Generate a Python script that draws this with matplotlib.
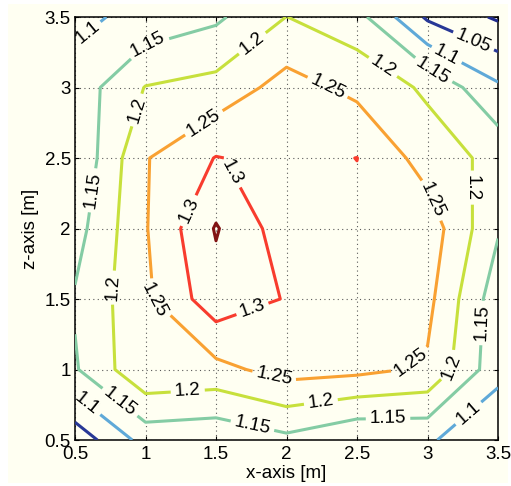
import numpy as np
import matplotlib
matplotlib.use("Agg")
import matplotlib.pyplot as plt
from matplotlib.patches import Rectangle

plt.rcParams['font.family'] = ['Liberation Sans', 'DejaVu Sans']

# measurement grid (m)
x_pos = [0.5, 1.0, 1.5, 2.0, 2.5, 3.0, 3.5]
z_pos = [0.5, 1.0, 1.5, 2.0, 2.5, 3.0, 3.5]

# measured values, one row per z position (bottom to top)
row_z050 = [1.018, 1.119, 1.111, 1.137, 1.102, 1.108, 1.051]
row_z100 = [1.145, 1.242, 1.235, 1.270, 1.263, 1.243, 1.117]
row_z150 = [1.155, 1.240, 1.331, 1.297, 1.285, 1.264, 1.120]
row_z200 = [1.130, 1.2465, 1.354, 1.272, 1.288, 1.279, 1.155]
row_z250 = [1.1056, 1.2467, 1.302, 1.285, 1.3005, 1.228, 1.184]
row_z300 = [1.121, 1.202, 1.217, 1.270, 1.237, 1.191, 1.109]
row_z350 = [1.088, 1.115, 1.141, 1.2005, 1.168, 1.042, 0.993]

levels = [1.0, 1.05, 1.1, 1.15, 1.2, 1.25, 1.3, 1.35]
level_colors = ['#1f2a8c', '#283896', '#5fa9d8', '#84cca4',
                '#c7e03c', '#f9a132', '#f83c2e', '#821414']

tick_vals = [0.5, 1, 1.5, 2, 2.5, 3, 3.5]
tick_text = ['0.5', '1', '1.5', '2', '2.5', '3', '3.5']

# where the contour labels sit (each snaps to the nearest line)
label_spots = [
    (3.34, 3.36),
    (0.58, 3.40), (3.14, 3.24), (0.585, 0.755), (3.29, 0.69),
    (1.02, 3.29), (0.63, 2.27), (0.82, 0.77), (1.755, 0.585),
    (2.72, 0.656), (3.38, 1.33), (3.04, 3.12),
    (0.94, 2.84), (0.78, 1.58), (1.30, 0.84), (2.245, 0.76),
    (3.16, 1.02), (3.31, 2.29), (2.68, 3.14), (1.76, 3.31),
    (1.42, 2.74), (2.29, 3.0), (3.03, 2.2), (2.87, 1.06),
    (1.91, 0.94), (1.08, 1.51),
    (1.62, 2.40), (1.30, 2.13), (1.755, 1.44),
]

cream = '#fffff2'
W, H = 511, 486
fig = plt.figure(figsize=(W / 100, H / 100), dpi=100, facecolor='white')
fig.patches.append(Rectangle((8 / W, 3 / H), (508 - 8) / W, (482 - 3) / H,
                             transform=fig.transFigure, facecolor=cream,
                             edgecolor='none', zorder=-10))
ax = fig.add_axes([75 / W, 46 / H, 423 / W, 423 / H])
ax.set_facecolor(cream)

X, Z = np.meshgrid(x_pos, z_pos)
V = np.array([row_z050, row_z100, row_z150, row_z200,
              row_z250, row_z300, row_z350])

cs = ax.contour(X, Z, V, levels=levels, colors=level_colors,
                linewidths=2.2, zorder=3)
ax.clabel(cs, manual=label_spots, inline=True, inline_spacing=4,
          fontsize=13.5, colors='k', fmt=lambda v: f'{v:g}')

ax.set_xlim(0.5, 3.5)
ax.set_ylim(0.5, 3.5)
ax.set_xticks(tick_vals)
ax.set_xticklabels(tick_text)
ax.set_yticks(tick_vals)
ax.set_yticklabels(tick_text)
ax.tick_params(direction='in', length=3, width=0.8, labelsize=13.5,
               top=True, right=True, color='k')
ax.tick_params(axis='x', pad=4)
ax.tick_params(axis='y', pad=3)
ax.grid(True, color='0.35', linestyle=(0, (1, 3)), linewidth=0.8, zorder=1)
ax.set_axisbelow(True)
for sp in ax.spines.values():
    sp.set_linewidth(1.1)
    sp.set_color('k')

ax.set_xlabel('x-axis [m]', fontsize=13.5, labelpad=2)
ax.set_ylabel('z-axis [m]', fontsize=13.5, labelpad=4)

fig.savefig('out.png', dpi=100, facecolor=fig.get_facecolor())
